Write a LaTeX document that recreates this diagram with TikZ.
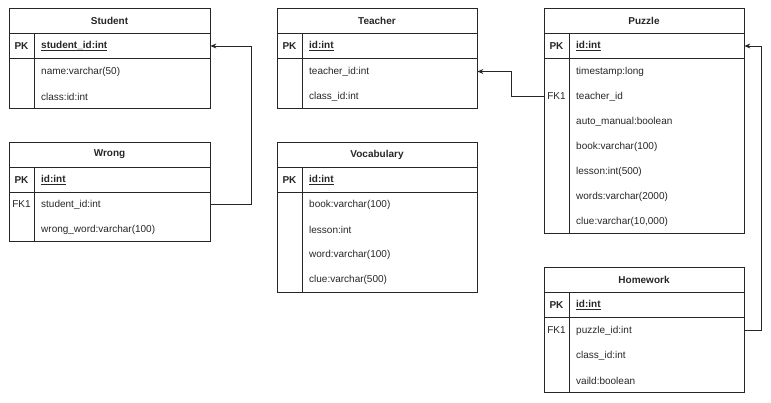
\documentclass[tikz,border=0pt]{standalone}
\usepackage{fontspec}
\setmainfont{Liberation Sans}
\usetikzlibrary{arrows.meta}
\begin{document}
\begin{tikzpicture}[x=1pt,y=-1pt,
  font=\fontsize{10}{12}\selectfont,
  every node/.style={text=black!85},
  ln/.style={draw=black!85, line width=0.9pt},
  tbl/.style={ln, inner sep=0pt, anchor=north west, minimum width=#1},
  tbl/.default=201pt,
  ttl/.style={font=\fontsize{10}{12}\selectfont\bfseries, inner sep=0pt},
  key/.style={minimum width=25pt, inner sep=0pt, yshift=-0.5pt},
  fld/.style={anchor=west, inner xsep=7pt, inner ysep=0pt, align=left, text width=#1, yshift=-0.5pt},
  conn/.style={ln, -{Stealth[length=6pt,width=5pt]}}]
\useasboundingbox (0,0) rectangle (771,403);

% ---------- Student ----------
\node[tbl=201pt, minimum height=100pt] (student) at (9,8) {};
\draw[ln] (9,33) -- (210,33) (9,58) -- (210,58) (34,33) -- (34,108);
\node[ttl] (student-t) at (109.5,20.5) {Student};
\node[key] (student-k0) at (21.5,45.5) {\bfseries PK};
\node[fld=162pt] (student-f0) at (34,45.5) {\bfseries\underline{student\_id:int}};
\node[fld=162pt] (student-f1) at (34,71) {name:varchar(50)};
\node[fld=162pt] (student-f2) at (34,96) {class:id:int};

% ---------- Wrong ----------
\node[tbl=201pt, minimum height=99pt] (wrong) at (9,142) {};
\draw[ln] (9,167) -- (210,167) (9,192) -- (210,192) (34,167) -- (34,241);
\node[ttl] (wrong-t) at (109.5,154.5) {Wrong};
\node[key] (wrong-k0) at (21.5,179.5) {\bfseries PK};
\node[fld=162pt] (wrong-f0) at (34,179.5) {\bfseries\underline{id:int}};
\node[key] (wrong-k1) at (21.5,204) {FK1};
\node[fld=162pt] (wrong-f1) at (34,204) {student\_id:int};
\node[fld=162pt] (wrong-f2) at (34,229) {wrong\_word:varchar(100)};

% ---------- Teacher ----------
\node[tbl=200pt, minimum height=100pt] (teacher) at (277,8) {};
\draw[ln] (277,33) -- (477,33) (277,58) -- (477,58) (302,33) -- (302,108);
\node[ttl] (teacher-t) at (377,20.5) {Teacher};
\node[key] (teacher-k0) at (289.5,45.5) {\bfseries PK};
\node[fld=161pt] (teacher-f0) at (302,45.5) {\bfseries\underline{id:int}};
\node[fld=161pt] (teacher-f1) at (302,71) {teacher\_id:int};
\node[fld=161pt] (teacher-f2) at (302,96) {class\_id:int};

% ---------- Vocabulary ----------
\node[tbl=200pt, minimum height=150pt] (vocab) at (277,142) {};
\draw[ln] (277,167) -- (477,167) (277,192) -- (477,192) (302,167) -- (302,292);
\node[ttl] (vocab-t) at (377,154.5) {Vocabulary};
\node[key] (vocab-k0) at (289.5,179.5) {\bfseries PK};
\node[fld=161pt] (vocab-f0) at (302,179.5) {\bfseries\underline{id:int}};
\node[fld=161pt] (vocab-f1) at (302,204) {book:varchar(100)};
\node[fld=161pt] (vocab-f2) at (302,229) {lesson:int};
\node[fld=161pt] (vocab-f3) at (302,254) {word:varchar(100)};
\node[fld=161pt] (vocab-f4) at (302,279) {clue:varchar(500)};

% ---------- Puzzle ----------
\node[tbl=200pt, minimum height=225pt] (puzzle) at (544,8) {};
\draw[ln] (544,33) -- (744,33) (544,58) -- (744,58) (569,33) -- (569,233);
\node[ttl] (puzzle-t) at (644,20.5) {Puzzle};
\node[key] (puzzle-k0) at (556.5,45.5) {\bfseries PK};
\node[fld=161pt] (puzzle-f0) at (569,45.5) {\bfseries\underline{id:int}};
\node[fld=161pt] (puzzle-f1) at (569,71) {timestamp:long};
\node[key] (puzzle-k2) at (556.5,96) {FK1};
\node[fld=161pt] (puzzle-f2) at (569,96) {teacher\_id};
\node[fld=161pt] (puzzle-f3) at (569,121) {auto\_manual:boolean};
\node[fld=161pt] (puzzle-f4) at (569,146) {book:varchar(100)};
\node[fld=161pt] (puzzle-f5) at (569,171) {lesson:int(500)};
\node[fld=161pt] (puzzle-f6) at (569,196) {words:varchar(2000)};
\node[fld=161pt] (puzzle-f7) at (569,221) {clue:varchar(10,000)};

% ---------- Homework ----------
\node[tbl=200pt, minimum height=125pt] (homework) at (544,267) {};
\draw[ln] (544,292) -- (744,292) (544,317) -- (744,317) (569,292) -- (569,392);
\node[ttl] (homework-t) at (644,279.5) {Homework};
\node[key] (homework-k0) at (556.5,304.5) {\bfseries PK};
\node[fld=161pt] (homework-f0) at (569,304.5) {\bfseries\underline{id:int}};
\node[key] (homework-k1) at (556.5,330) {FK1};
\node[fld=161pt] (homework-f1) at (569,330) {puzzle\_id:int};
\node[fld=161pt] (homework-f2) at (569,355) {class\_id:int};
\node[fld=161pt] (homework-f3) at (569,380) {vaild:boolean};

% ---------- connectors ----------
\coordinate (cA) at (251,0);
\coordinate (cB) at (511,0);
\coordinate (cC) at (761,0);
\draw[conn] (wrong-f1.east) -- (cA |- wrong-f1.east) |- (student-f0.east);
\draw[conn] (puzzle-k2.west) -- (cB |- puzzle-k2.west) |- (teacher-f1.east);
\draw[conn] (homework-f1.east) -- (cC |- homework-f1.east) |- (puzzle-f0.east);
\end{tikzpicture}
\end{document}
